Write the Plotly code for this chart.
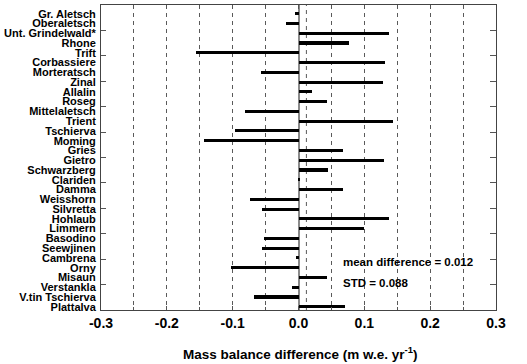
import plotly.graph_objects as go

glaciers = ["Gr. Aletsch", "Oberaletsch", "Unt. Grindelwald*", "Rhone", "Trift",
            "Corbassiere", "Morteratsch", "Zinal", "Allalin", "Roseg",
            "Mittelaletsch", "Trient", "Tschierva", "Moming", "Gries",
            "Gietro", "Schwarzberg", "Clariden", "Damma", "Weisshorn",
            "Silvretta", "Hohlaub", "Limmern", "Basodino", "Seewjinen",
            "Cambrena", "Orny", "Misaun", "Verstankla", "V.tin Tschierva",
            "Plattalva"]
differences = [-0.006, -0.019, 0.137, 0.077, -0.155,
               0.132, -0.057, 0.128, 0.021, 0.043,
               -0.081, 0.143, -0.096, -0.143, 0.067,
               0.130, 0.045, 0.001, 0.067, -0.073,
               -0.055, 0.138, 0.100, -0.052, -0.055,
               -0.004, -0.102, 0.043, -0.010, -0.067,
               0.071]
x_tick_vals = [-0.3, -0.2, -0.1, 0.0, 0.1, 0.2, 0.3]
x_tick_text = ["-0.3", "-0.2", "-0.1", "0.0", "0.1", "0.2", "0.3"]
mean_diff = 0.012
std_diff = 0.088

n = len(glaciers)
ypos = [n - 1 - i for i in range(n)]
y_lo, y_hi = -0.33, n - 1 + 0.89

FONT = "Liberation Sans, Arial, Helvetica, sans-serif"
GRID = "#5a5a5a"
TICK = "#555"

fig = go.Figure()
fig.add_trace(go.Bar(
    x=differences, y=ypos, orientation="h", width=0.31,
    marker=dict(color="black", line=dict(width=0)),
    showlegend=False, hoverinfo="x+text", text=glaciers, textposition="none",
))
# invisible helper traces so the tick-only overlay axes are drawn
for ax_name in ("y2", "y3"):
    fig.add_trace(go.Scatter(x=[0.0], y=[6], xaxis="x", yaxis=ax_name,
                             mode="markers",
                             marker=dict(size=1, color="rgba(0,0,0,0)"),
                             showlegend=False, hoverinfo="skip"))

fig.add_shape(type="line", xref="x", yref="paper", x0=mean_diff, x1=mean_diff,
              y0=0, y1=1, line=dict(color=GRID, width=1, dash="4px,4px"),
              layer="below")

fig.add_annotation(x=0.064, y=4.56, xref="x", yref="y", xanchor="left",
                   yanchor="middle", showarrow=False,
                   text="mean difference = %.3f" % mean_diff,
                   font=dict(family=FONT, size=11.5, color="black", weight="bold"))
fig.add_annotation(x=0.064, y=2.42, xref="x", yref="y", xanchor="left",
                   yanchor="middle", showarrow=False,
                   text="STD = %.3f" % std_diff,
                   font=dict(family=FONT, size=11.5, color="black", weight="bold"))
fig.add_annotation(x=0.505, y=-0.14, xref="paper", yref="paper",
                   xanchor="center", yanchor="middle", showarrow=False,
                   text="Mass balance difference (m w.e. yr<sup>-1</sup>)",
                   font=dict(family=FONT, size=13.5, color="black", weight="bold"))

box_ticks = dict(range=[0, 12], tickmode="array", tickvals=list(range(1, 12)),
                 ticks="inside", tickwidth=1, tickcolor=TICK,
                 showticklabels=False, showgrid=False, zeroline=False,
                 showline=False, overlaying="y", anchor="x", fixedrange=True)

fig.update_layout(
    width=527, height=364,
    margin=dict(l=91, r=31, t=4, b=54),
    paper_bgcolor="white", plot_bgcolor="white",
    bargap=0,
    xaxis=dict(
        range=[-0.3, 0.3], tickmode="array", tickvals=x_tick_vals,
        ticktext=x_tick_text, ticks="inside", ticklen=4, tickcolor=TICK,
        showline=True, linecolor="#444", linewidth=1, mirror="ticks",
        showgrid=True, gridcolor=GRID, gridwidth=1, griddash="4px,4px",
        zeroline=True, zerolinecolor="#8a8a8a", zerolinewidth=1.5,
        minor=dict(tickmode="linear", tick0=0, dtick=0.05, ticks="inside",
                   ticklen=3, tickcolor=TICK, showgrid=True,
                   gridcolor=GRID, gridwidth=1, griddash="4px,4px"),
        tickfont=dict(family=FONT, size=14, color="black", weight="bold"),
        fixedrange=True,
    ),
    yaxis=dict(
        range=[y_lo, y_hi], tickmode="array", tickvals=ypos,
        ticktext=glaciers, ticks="",
        showgrid=False, zeroline=False,
        showline=True, linecolor="#444", linewidth=1, mirror=True,
        tickfont=dict(family=FONT, size=11, color="black", weight="bold"),
        ticklabelstandoff=2, fixedrange=True,
    ),
    yaxis2=dict(side="left", ticklen=5, **box_ticks),
    yaxis3=dict(side="right", ticklen=6, **box_ticks),
)

fig.write_html("out.html")
